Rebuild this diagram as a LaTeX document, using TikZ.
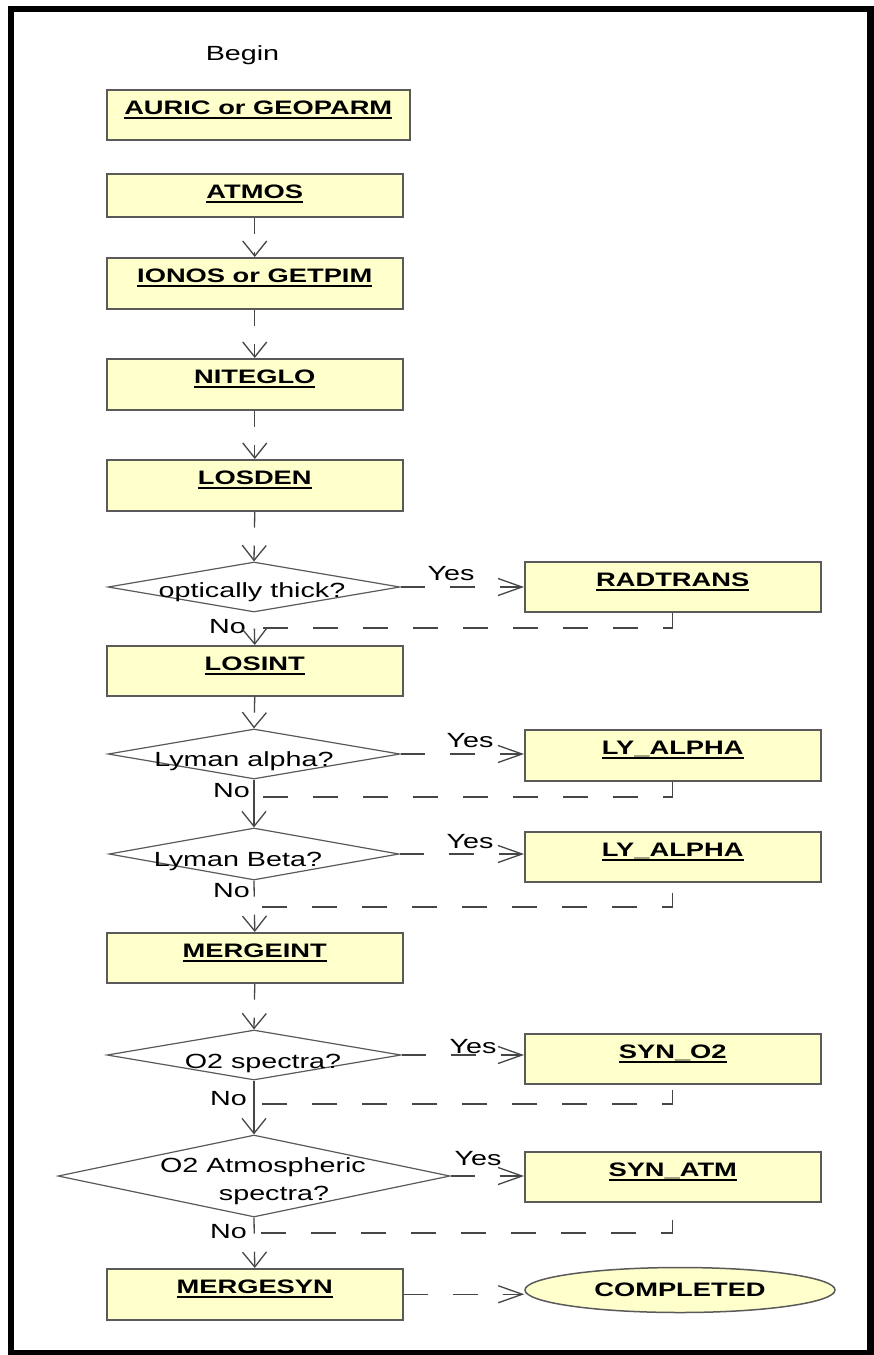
\documentclass[tikz,border=0pt]{standalone}
\usepackage{fontspec}
\setmainfont[FakeStretch=1.4]{Liberation Sans}
\usetikzlibrary{shapes.geometric,arrows.meta}
\definecolor{boxfill}{RGB}{255,255,204}
\definecolor{edge}{RGB}{90,90,90}
\definecolor{wire}{RGB}{70,70,70}
\newcommand\ulbox[1]{\setbox0=\hbox{#1}\rlap{\rule[-4pt]{\wd0}{2pt}}\box0}
\begin{document}
\begin{tikzpicture}[x=1pt,y=-1pt,
  font=\fontsize{20.5}{24}\selectfont,
  pbox/.style={draw=edge, fill=boxfill, line width=1.5pt, inner sep=0pt, anchor=north west,
    minimum width=296pt, text height=25pt, text depth=25pt,
    font=\fontsize{19.5}{24}\selectfont\bfseries},
  dia/.style={diamond, draw=edge, fill=white, line width=1.2pt, inner sep=0pt},
  lbl/.style={inner sep=0pt, anchor=base},
  nolbl/.style={inner sep=0pt, anchor=base east},
  vconn/.style={draw=wire, line width=1.3pt, dash pattern=on 16pt off 18pt on 300pt,
    -{Straight Barb[length=15pt,width=24pt]}},
  sconn/.style={draw=wire, line width=1.3pt, -{Straight Barb[length=15pt,width=24pt]}},
  hconn/.style={draw=wire, line width=1.3pt,
    dash pattern=on 24pt off 25pt on 25pt off 25pt on 100pt,
    -{Straight Barb[length=24pt,width=17pt]}},
  rconn/.style={draw=wire, line width=1.3pt, dash pattern=on 25pt off 25pt}]

\useasboundingbox (0,0) rectangle (874,1355);
\fill[black] (8,6) rectangle (874,1355);
\fill[white] (14,12) rectangle (867,1350);

% start label
\node[lbl] (begin) at (242.5,60) {Begin};

% main column boxes
\node[pbox, minimum width=303pt] (auric) at (106,89) {\ulbox{AURIC or GEOPARM}};
\node[pbox, text depth=18pt] (atmos) at (106,173) {\ulbox{ATMOS}};
\node[pbox, text depth=26pt] (ionos) at (106,257) {\ulbox{IONOS or GETPIM}};
\node[pbox, text depth=26pt] (niteglo) at (106,358) {\ulbox{NITEGLO}};
\node[pbox, text depth=26pt] (losden) at (106,459) {\ulbox{LOSDEN}};
\node[pbox] (losint) at (106,645) {\ulbox{LOSINT}};
\node[pbox] (mergeint) at (106,932) {\ulbox{MERGEINT}};
\node[pbox, text depth=26pt] (mergesyn) at (106,1268) {\ulbox{MERGESYN}};

% right boxes
\node[pbox] (radtrans) at (524,561) {\ulbox{RADTRANS}};
\node[pbox, text depth=26pt] (lya1) at (524,729) {\ulbox{LY\_ALPHA}};
\node[pbox] (lya2) at (524,831) {\ulbox{LY\_ALPHA}};
\node[pbox] (syno2) at (524,1033) {\ulbox{SYN\_O2}};
\node[pbox] (synatm) at (524,1151) {\ulbox{SYN\_ATM}};
\node[ellipse, draw=edge, fill=boxfill, line width=1.5pt, inner sep=0pt,
  minimum width=310pt, minimum height=45pt,
  font=\fontsize{19.5}{24}\selectfont\bfseries] (done) at (680,1290) {COMPLETED};

% decisions
\node[dia, minimum width=292pt, minimum height=50pt] (d1) at (254,587) {};
\node[dia, minimum width=292pt, minimum height=50pt] (d2) at (254,754) {};
\node[dia, minimum width=290pt, minimum height=52pt] (d3) at (254,854) {};
\node[dia, minimum width=294pt, minimum height=50pt] (d4) at (254,1055) {};
\node[dia, minimum width=392pt, minimum height=82pt] (d5) at (254,1176) {};
\node[lbl] (t1) at (252,597) {optically thick?};
\node[lbl] (t2) at (244,766) {Lyman alpha?};
\node[lbl] (t3) at (238,866) {Lyman Beta?};
\node[lbl] (t4) at (263,1068) {O2 spectra?};
\node[lbl] (t5a) at (263,1172) {O2 Atmospheric};
\node[lbl] (t5b) at (274,1200) {spectra?};

% yes / no labels
\node[lbl] (y1) at (451,580) {Yes};
\node[lbl] (y2) at (470,747) {Yes};
\node[lbl] (y3) at (470,848) {Yes};
\node[lbl] (y4) at (473,1053) {Yes};
\node[lbl] (y5) at (478,1165) {Yes};
\node[nolbl] (n1l) at (246,633) {No};
\node[nolbl] (n2l) at (250,797) {No};
\node[nolbl] (n3l) at (250,897) {No};
\node[nolbl] (n4l) at (247,1105) {No};
\node[nolbl] (n5l) at (247,1238) {No};

% junction points of the return lines
\coordinate (n1) at (254,628);
\coordinate (n2) at (254,797);
\coordinate (n3) at (254,907);
\coordinate (n4) at (254,1104);
\coordinate (n5) at (254,1233);

% main flow
\draw[vconn] (atmos.south) -- (ionos.north);
\draw[vconn] (ionos.south) -- (niteglo.north);
\draw[vconn] (niteglo.south) -- (losden.north);
\draw[vconn] (losden.south) -- (d1.north);
\draw[vconn, dash pattern=on 100pt off 16pt, dash phase=100pt] (d1.south) -- (losint.north);
\draw[vconn] (losint.south) -- (d2.north);
\draw[sconn] (d2.south) -- (d3.north);
\draw[vconn] (d3.south) -- (mergeint.north);
\draw[vconn] (mergeint.south) -- (d4.north);
\draw[sconn] (d4.south) -- (d5.north);
\draw[vconn] (d5.south) -- (mergesyn.north);

% yes branches
\draw[hconn] (d1.east) -- (d1.east -| radtrans.west);
\draw[hconn] (d2.east) -- (d2.east -| lya1.west);
\draw[hconn] (d3.east) -- (d3.east -| lya2.west);
\draw[hconn] (d4.east) -- (d4.east -| syno2.west);
\draw[hconn] (d5.east) -- (d5.east -| synatm.west);
\draw[hconn] (mergesyn.east) -- (mergesyn.east -| done.west);

% returns
\draw[rconn] (radtrans.south) |- (n1);
\draw[rconn] (lya1.south) |- (n2);
\draw[rconn, dash phase=40pt] (lya2.south) |- (n3);
\draw[rconn, dash phase=45pt] (syno2.south) |- (n4);
\draw[rconn, dash phase=33pt] (synatm.south) |- (n5);
\end{tikzpicture}
\end{document}
